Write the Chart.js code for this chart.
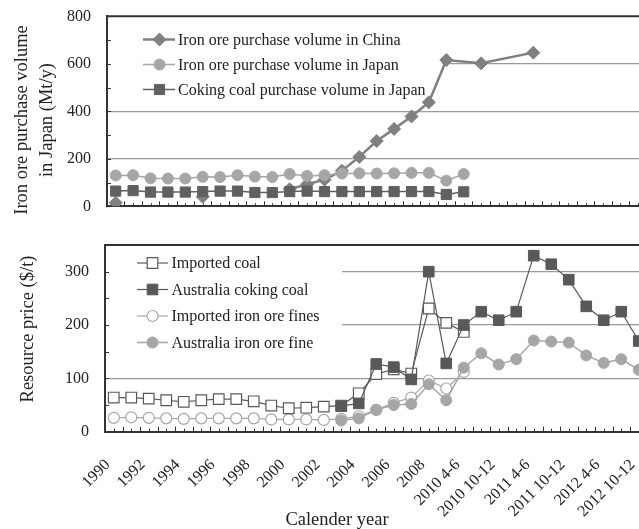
<!DOCTYPE html>
<html>
<head>
<meta charset="utf-8">
<script src="https://cdn.jsdelivr.net/npm/chart.js@4.4.1/dist/chart.umd.min.js"></script>
<style>
  html, body { margin: 0; padding: 0; background: #fff; overflow: hidden; }
  #wrap { position: relative; width: 639px; height: 529px; overflow: hidden;
          font-family: "Liberation Serif", "Times New Roman", serif; color: #222; }
  canvas { position: absolute; left: 0; }
  #topChart { top: 0; }
  #bottomChart { top: 225px; }
  .title { position: absolute; white-space: nowrap; font-size: 18.5px; line-height: 25px;
           text-align: center; transform: translate(-50%, -50%); }
  .rot { transform: translate(-50%, -50%) rotate(-90deg); }
</style>
</head>
<body>
<div id="wrap">
  <canvas id="topChart" width="660" height="225"></canvas>
  <canvas id="bottomChart" width="660" height="304"></canvas>
  <div class="title rot" style="left:34px; top:120px;">Iron ore purchase volume<br>in Japan (Mt/y)</div>
  <div class="title rot" style="left:27px; top:329px;">Resource price ($/t)</div>
  <div class="title" style="left:337px; top:519px;">Calender year</div>
</div>
<script>
// categories: yearly to 2009, then quarters
const categories = ['1990', '1991', '1992', '1993', '1994', '1995', '1996', '1997', '1998', '1999',
  '2000', '2001', '2002', '2003', '2004', '2005', '2006', '2007', '2008', '2009',
  '2010 4-6', '2010 7-9', '2010 10-12', '2011 1-3', '2011 4-6', '2011 7-9', '2011 10-12',
  '2012 1-3', '2012 4-6', '2012 7-9', '2012 10-12'];
const xTickLabels = ['1990', '1992', '1994', '1996', '1998', '2000', '2002', '2004', '2006', '2008',
  '2010 4-6', '2010 10-12', '2011 4-6', '2011 10-12', '2012 4-6', '2012 10-12'];

// top panel: purchase volume (Mt/y)
const chinaCats = ['1990', '1995', '2000', '2001', '2002', '2003', '2004', '2005', '2006', '2007',
  '2008', '2009', '2010 7-9', '2011 4-6'];
const chinaVolume = [15, 40, 72, 93, 112, 150, 208, 275, 326, 378, 438, 616, 602, 647];
const japanOreVolume = [130, 131, 118, 117, 117, 124, 123, 131, 125, 123, 136, 128, 131, 138, 139,
  138, 139, 141, 141, 108, 136];
const japanCoalVolume = [64, 66, 60, 60, 60, 62, 64, 64, 58, 58, 62, 64, 62, 62, 62, 62, 62, 62, 62,
  50, 61];
const volumeTicks = [0, 200, 400, 600, 800];

// bottom panel: resource price ($/t)
const importedCoal = [64, 64, 62, 59, 56, 59, 61, 61, 57, 49, 44, 45, 47, 49, 72, 108, 117, 109,
  231, 204, 187];
const ausCokingCoal = [null, null, null, null, null, null, null, null, null, null, null, null, null,
  48, 53, 127, 121, 98, 300, 128, 200, 225, 209, 225, 330, 314, 285, 235, 209, 225, 170];
const importedOreFines = [26, 27, 26, 25, 24, 25, 25, 25, 25, 23, 23, 23, 22, 24, 29, 41, 54, 64,
  96, 81, 112];
const ausOreFine = [null, null, null, null, null, null, null, null, null, null, null, null, null,
  21, 25, 41, 50, 52, 89, 59, 120, 147, 126, 136, 171, 169, 167, 143, 129, 136, 116];
const priceTicks = [0, 100, 200, 300];

const FONT = '"Liberation Serif", "Times New Roman", serif';
const DARK = '#333333';

function drawMarker(ctx, style, r, x, y) {
  ctx.beginPath();
  if (style === 'circle') {
    ctx.arc(x, y, r, 0, Math.PI * 2);
  } else if (style === 'rect') {
    const s = r * Math.SQRT1_2;
    ctx.rect(x - s, y - s, 2 * s, 2 * s);
  } else {
    ctx.moveTo(x, y - r); ctx.lineTo(x + r, y); ctx.lineTo(x, y + r); ctx.lineTo(x - r, y);
    ctx.closePath();
  }
  ctx.fill();
  ctx.stroke();
}

// legend inside the plot, inner tick marks and top border
const framePlugin = {
  id: 'frame',
  beforeDatasetsDraw(chart, args, o) {
    const {ctx, chartArea: a, scales: {x, y}} = chart;
    ctx.save();
    const seg = (x0, y0, x1, y1) => { ctx.beginPath(); ctx.moveTo(x0, y0); ctx.lineTo(x1, y1); ctx.stroke(); };

    // legend background hides the gridlines behind it
    ctx.fillStyle = '#fff';
    ctx.fillRect(a.left + 1, o.box[0], o.box[1] - a.left - 1, o.box[2]);

    ctx.strokeStyle = DARK;
    ctx.lineWidth = 1;
    for (let i = 0; i <= categories.length; i++) {
      const pb = Math.round(x.getPixelForValue(i - 0.5)) + 0.5;
      seg(pb, a.bottom, pb, a.bottom - 5);
      if (i < categories.length) {
        const pc = Math.round(x.getPixelForValue(i)) + 0.5;
        seg(pc, a.bottom, pc, a.bottom - 3);
      }
    }
    for (let v = o.minorStep; v < y.max; v += o.minorStep) {
      const py = Math.round(y.getPixelForValue(v)) + 0.5;
      seg(a.left, py, a.left + 4, py);
    }
    ctx.lineWidth = 2;
    seg(a.left, a.top, a.right, a.top);

    ctx.font = '16px ' + FONT;
    ctx.textBaseline = 'middle';
    chart.data.datasets.forEach((ds, i) => {
      const ry = o.rows[i];
      ctx.strokeStyle = ds.borderColor;
      ctx.lineWidth = ds.borderWidth;
      seg(o.lineX[0], ry, o.lineX[1], ry);
      ctx.fillStyle = ds.pointBackgroundColor;
      ctx.strokeStyle = ds.pointBorderColor;
      ctx.lineWidth = ds.pointBorderWidth || 1;
      drawMarker(ctx, ds.pointStyle, ds.pointRadius, o.markerX, ry);
      ctx.fillStyle = '#222';
      ctx.fillText(ds.label, o.textX, ry + 1);
    });
    ctx.restore();
  }
};

function gridColor(ticks) {
  return c => (c.tick && ticks.includes(c.tick.value) && c.tick.value > ticks[0]
    && c.tick.value !== c.scale.max) ? '#9a9a9a' : 'rgba(0,0,0,0)';
}

// fixed axis sizes, no label overhang padding
function fixSize(w, h) {
  return s => {
    if (w !== null) s.width = w;
    if (h !== null) s.height = h;
    s.paddingTop = 0; s.paddingBottom = 0; s.paddingLeft = 0; s.paddingRight = 0;
  };
}

const tickFont = {family: FONT, size: 16};

new Chart(document.getElementById('topChart'), {
  type: 'line',
  data: {
    labels: categories,
    datasets: [
      {
        label: 'Iron ore purchase volume in China',
        data: chinaCats.map((c, i) => ({x: c, y: chinaVolume[i]})),
        borderColor: '#808080', borderWidth: 2.5, spanGaps: 3,
        pointStyle: 'rectRot', pointRadius: 6.5,
        pointBackgroundColor: '#808080', pointBorderColor: '#808080', pointBorderWidth: 1,
        order: 3
      },
      {
        label: 'Iron ore purchase volume in Japan',
        data: japanOreVolume,
        borderColor: '#a6a6a6', borderWidth: 1.5,
        pointStyle: 'circle', pointRadius: 5.5,
        pointBackgroundColor: '#a6a6a6', pointBorderColor: '#a6a6a6', pointBorderWidth: 1,
        order: 1
      },
      {
        label: 'Coking coal purchase volume in Japan',
        data: japanCoalVolume,
        borderColor: '#606060', borderWidth: 1.5,
        pointStyle: 'rect', pointRadius: 7.2,
        pointBackgroundColor: '#606060', pointBorderColor: '#606060', pointBorderWidth: 1,
        order: 0
      }
    ]
  },
  options: {
    responsive: false,
    animation: false,
    events: [],
    layout: {padding: {top: 16.3, right: 13.6, left: 0, bottom: 0}},
    plugins: {
      legend: {display: false},
      tooltip: {enabled: false},
      frame: {minorStep: 100, box: [24, 442, 80], rows: [39.5, 64.5, 89.5],
              lineX: [143, 175], markerX: 159.5, textX: 178}
    },
    scales: {
      x: {
        offset: true,
        grid: {display: false, drawTicks: false},
        border: {color: DARK, width: 2},
        ticks: {display: false},
        afterFit: fixSize(null, 18.7)
      },
      y: {
        min: volumeTicks[0], max: volumeTicks[volumeTicks.length - 1],
        ticks: {stepSize: 200, padding: 16, font: tickFont, color: '#222'},
        grid: {color: gridColor(volumeTicks), lineWidth: 1.3, drawTicks: false},
        border: {color: DARK, width: 2},
        afterFit: fixSize(107, null)
      }
    }
  },
  plugins: [framePlugin]
});

new Chart(document.getElementById('bottomChart'), {
  type: 'line',
  data: {
    labels: categories,
    datasets: [
      {
        label: 'Imported coal',
        data: importedCoal,
        borderColor: '#595959', borderWidth: 1.2,
        pointStyle: 'rect', pointRadius: 7.5,
        pointBackgroundColor: '#ffffff', pointBorderColor: '#595959', pointBorderWidth: 1.2,
        order: 2
      },
      {
        label: 'Australia coking coal',
        data: ausCokingCoal,
        borderColor: '#595959', borderWidth: 1.2,
        pointStyle: 'rect', pointRadius: 7.5,
        pointBackgroundColor: '#595959', pointBorderColor: '#595959', pointBorderWidth: 1,
        order: 0
      },
      {
        label: 'Imported iron ore fines',
        data: importedOreFines,
        borderColor: '#a6a6a6', borderWidth: 1.2,
        pointStyle: 'circle', pointRadius: 5.5,
        pointBackgroundColor: '#ffffff', pointBorderColor: '#a6a6a6', pointBorderWidth: 1.2,
        order: 3
      },
      {
        label: 'Australia iron ore fine',
        data: ausOreFine,
        borderColor: '#a6a6a6', borderWidth: 1.5,
        pointStyle: 'circle', pointRadius: 5.5,
        pointBackgroundColor: '#a6a6a6', pointBorderColor: '#a6a6a6', pointBorderWidth: 1,
        order: 1
      }
    ]
  },
  options: {
    responsive: false,
    animation: false,
    events: [],
    layout: {padding: {top: 20, right: 12.5, left: 0, bottom: 0}},
    plugins: {
      legend: {display: false},
      tooltip: {enabled: false},
      frame: {minorStep: 50, box: [23, 342, 109], rows: [38, 64.5, 91, 117.5],
              lineX: [137, 168], markerX: 152.5, textX: 171.5}
    },
    scales: {
      x: {
        offset: true,
        grid: {display: false, drawTicks: false},
        border: {color: DARK, width: 2},
        ticks: {
          autoSkip: false, minRotation: 45, maxRotation: 45, padding: 24, labelOffset: -6,
          font: tickFont, color: '#222',
          callback: (v, i) => xTickLabels.includes(categories[i]) ? categories[i] : ''
        },
        afterFit: fixSize(null, 97.3)
      },
      y: {
        min: 0, max: 350,
        ticks: {stepSize: 100, padding: 16, font: tickFont, color: '#222',
                callback: v => priceTicks.includes(v) ? v : ''},
        grid: {color: gridColor(priceTicks), lineWidth: 1.3, drawTicks: false},
        border: {color: DARK, width: 2},
        afterFit: fixSize(105, null)
      }
    }
  },
  plugins: [framePlugin]
});
</script>
</body>
</html>
